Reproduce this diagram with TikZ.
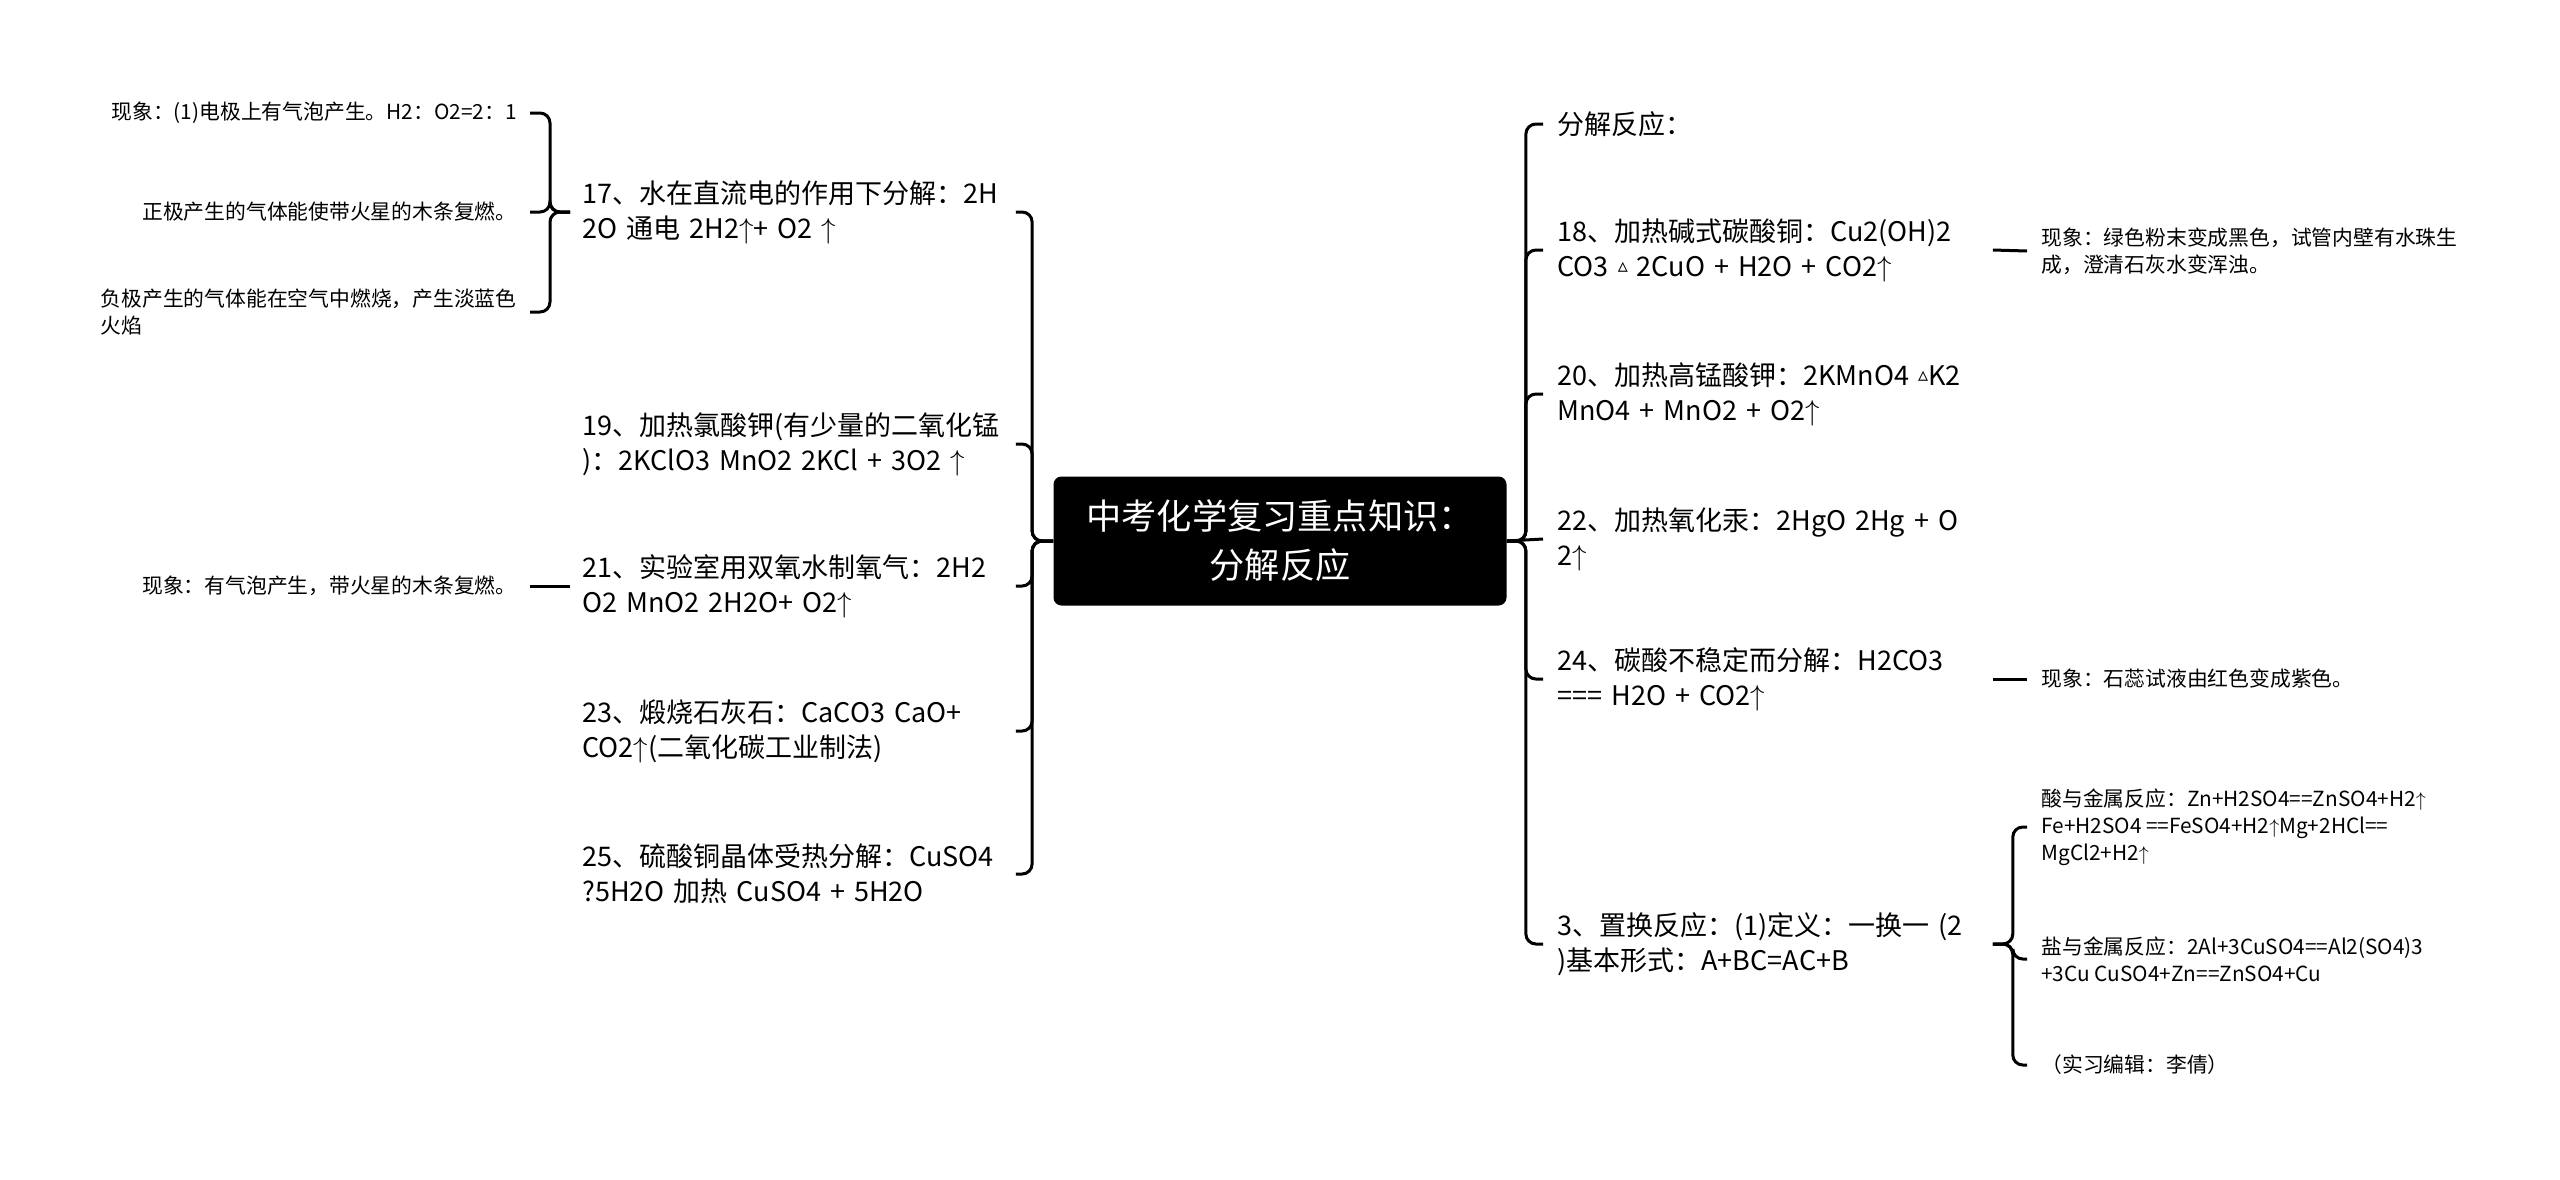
\documentclass[tikz,border=0pt]{standalone}
\usepackage{fontspec}
\setmainfont{Noto Sans CJK SC}
\newfontfamily\symfont{DejaVu Sans}
\newcommand\upar{\ensuremath{\uparrow}}
\newcommand\heat{\raisebox{2pt}{\symfont\fontsize{10}{10}\selectfont ▵}}
\tikzset{
  link/.style={line width=1.5pt, rounded corners=5pt},
  bigtxt/.style={font=\fontsize{13.5}{17.5}\selectfont},
  smalltxt/.style={font=\fontsize{10.4}{13.5}\selectfont},
  leftnode/.style={bigtxt, anchor=west, inner xsep=6pt, inner ysep=0pt, text width=210.5pt, align=left},
  rightnode/.style={bigtxt, anchor=west, inner xsep=7pt, inner ysep=0pt, text width=210.5pt, align=left},
  leftleaf/.style={smalltxt, anchor=east, inner xsep=6.5pt, inner ysep=0pt, align=left},
  rightleaf/.style={smalltxt, anchor=west, inner xsep=7pt, inner ysep=0pt, align=left},
  root/.style={fill=black, text=white, rounded corners=4pt, minimum width=226.5pt, minimum height=64.5pt, align=center, font=\fontsize{17.6}{24.5}\selectfont}
}
\begin{document}
\begin{tikzpicture}[x=0.5pt,y=-0.5pt]
\useasboundingbox (0,0) rectangle (2560,1179);

% centre
\node[root] (c) at (1280,541) {中考化学复习重点知识：\\分解反应};

% left branch
\node[leftnode] (n17) at (570,212) {17、水在直流电的作用下分解：2H\\2O~通电~2H2\upar+~O2~\upar};
\node[leftnode] (n19) at (570,444) {19、加热氯酸钾(有少量的二氧化锰\\)：2KClO3~MnO2~2KCl~+~3O2~\upar};
\node[leftnode] (n21) at (570,586) {21、实验室用双氧水制氧气：2H2\\O2~MnO2~2H2O+~O2\upar};
\node[leftnode] (n23) at (570,731) {23、煅烧石灰石：CaCO3~CaO+\\CO2\upar(二氧化碳工业制法)};
\node[leftnode] (n25) at (570,874) {25、硫酸铜晶体受热分解：CuSO4\\?5H2O~加热~CuSO4~+~5H2O};

\node[leftleaf] (s1) at (530,113) {现象：(1)电极上有气泡产生。H2：O2=2：1};
\node[leftleaf] (s2) at (530,212) {正极产生的气体能使带火星的木条复燃。};
\node[leftleaf] (s3) at (530,312) {负极产生的气体能在空气中燃烧，产生淡蓝色\\火焰};
\node[leftleaf] (l21) at (530,586) {现象：有气泡产生，带火星的木条复燃。};

\foreach \k in {n17,n19,n21,n23,n25}
  \draw[link] (c.west) -- ++(-21,0) |- (\k.east);
\foreach \k in {s1,s2,s3}
  \draw[link] (n17.west) -- ++(-20,0) |- (\k.east);
\draw[link] (n21.west) -- (l21.east);

% right branch
\node[rightnode] (r0) at (1543,124) {分解反应：};
\node[rightnode] (r18) at (1543,250) {18、加热碱式碳酸铜：Cu2(OH)2\\CO3~\heat~2CuO~+~H2O~+~CO2\upar};
\node[rightnode] (r20) at (1543,394) {20、加热高锰酸钾：2KMnO4~\heat{}K2\\MnO4~+~MnO2~+~O2\upar};
\node[rightnode] (r22) at (1543,539) {22、加热氧化汞：2HgO~2Hg~+~O\\2\upar};
\node[rightnode] (r24) at (1543,679) {24、碳酸不稳定而分解：H2CO3\\===~H2O~+~CO2\upar};
\node[rightnode] (r3) at (1543,944) {3、置换反应：(1)定义：一换一~(2\\)基本形式：A+BC=AC+B};

\node[rightleaf] (l18) at (2027,251) {现象：绿色粉末变成黑色，试管内壁有水珠生\\成，澄清石灰水变浑浊。};
\node[rightleaf] (l24) at (2027,679) {现象：石蕊试液由红色变成紫色。};
\node[rightleaf] (a1) at (2027,827) {酸与金属反应：Zn+H2SO4==ZnSO4+H2\upar\\Fe+H2SO4~==FeSO4+H2\upar{}Mg+2HCl==\\MgCl2+H2\upar};
\node[rightleaf] (a2) at (2027,959) {盐与金属反应：2Al+3CuSO4==Al2(SO4)3\\+3Cu~CuSO4+Zn==ZnSO4+Cu};
\node[rightleaf] (a3) at (2027,1065) {（实习编辑：李倩）};

\foreach \k in {r0,r18,r20,r24,r3}
  \draw[link] (c.east) -- ++(19,0) |- (\k.west);
\draw[link] (c.east) -- (r22.west);
\draw[link] (r18.east) -- (l18.west);
\draw[link] (r24.east) -- (l24.west);
\foreach \k in {a1,a2,a3}
  \draw[link] (r3.east) -- ++(20,0) |- (\k.west);
\end{tikzpicture}
\end{document}
